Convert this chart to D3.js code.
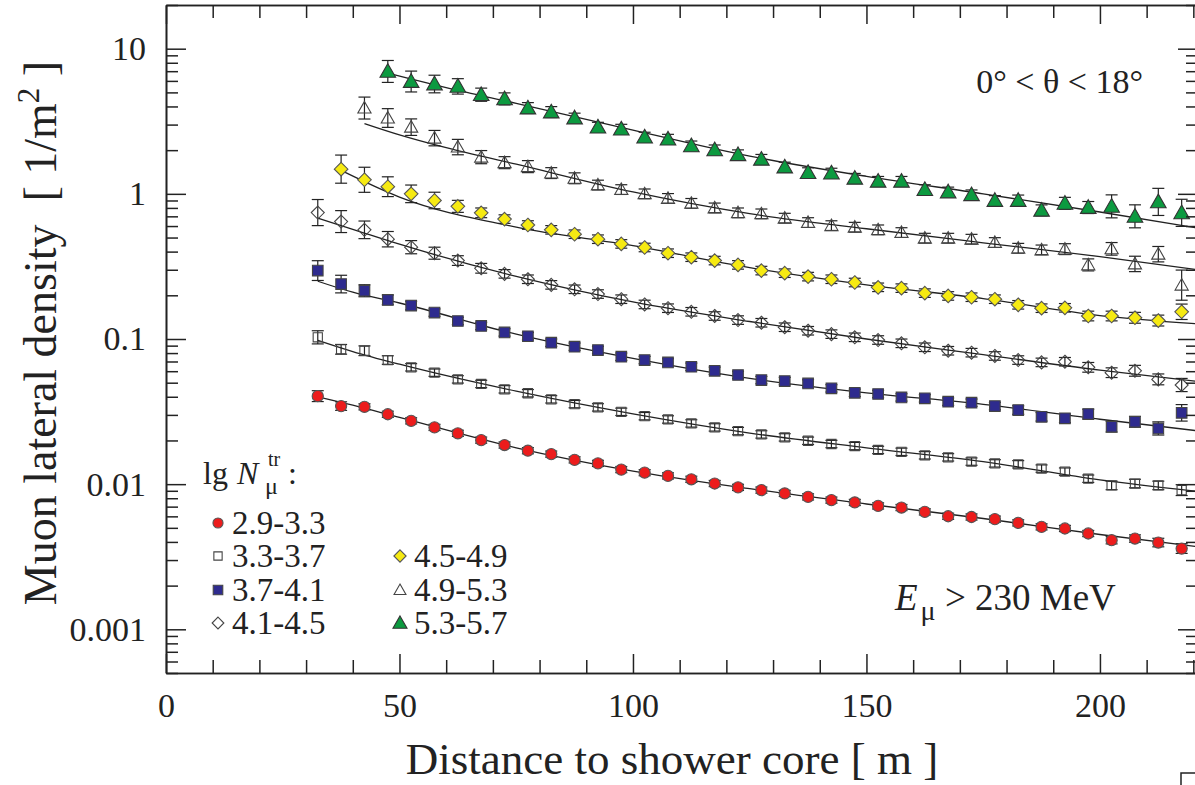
<!DOCTYPE html>
<html>
<head>
<meta charset="utf-8">
<script src="https://cdn.jsdelivr.net/npm/d3@7"></script>
<style>
  body { margin: 0; background: #fff; }
  svg text { font-family: "Liberation Serif", "Times New Roman", serif; fill: #222; }
</style>
</head>
<body>
<div id="chart"></div>
<script>
// ----------------------------------------------------
// Data (densities in 1/m^2)
// ----------------------------------------------------
const distances = [32.5, 37.5, 42.5, 47.5, 52.5, 57.5, 62.5, 67.5, 72.5, 77.5,
  82.5, 87.5, 92.5, 97.5, 102.5, 107.5, 112.5, 117.5, 122.5, 127.5,
  132.5, 137.5, 142.5, 147.5, 152.5, 157.5, 162.5, 167.5, 172.5, 177.5,
  182.5, 187.5, 192.5, 197.5, 202.5, 207.5, 212.5, 217.5];

const binLabels = ["2.9-3.3", "3.3-3.7", "3.7-4.1", "4.1-4.5", "4.5-4.9", "4.9-5.3", "5.3-5.7"];

const dens29 = [0.0404, 0.0345, 0.0341, 0.0303, 0.0273, 0.0246, 0.0224, 0.0201, 0.0186, 0.0170,
  0.0161, 0.0147, 0.0139, 0.0126, 0.0120, 0.0114, 0.0108, 0.0101, 0.0095, 0.0091,
  0.00863, 0.00817, 0.00776, 0.00748, 0.00708, 0.0069, 0.00644, 0.00601, 0.00594, 0.00574,
  0.00541, 0.00508, 0.00495, 0.00457, 0.00411, 0.00422, 0.00396, 0.0036];
const dens33 = [0.1027, 0.0849, 0.083, 0.0716, 0.0638, 0.0586, 0.0527, 0.049, 0.045, 0.0423,
  0.0384, 0.0356, 0.0338, 0.0315, 0.0294, 0.0279, 0.0262, 0.0246, 0.0232, 0.0220,
  0.0210, 0.0199, 0.0189, 0.0183, 0.0172, 0.0167, 0.0158, 0.0153, 0.0143, 0.0139,
  0.0137, 0.0128, 0.0122, 0.0109, 0.0098, 0.0101, 0.0098, 0.0091];
const dens37 = [0.296, 0.239, 0.215, 0.186, 0.170, 0.152, 0.133, 0.123, 0.111, 0.1045,
  0.0943, 0.0885, 0.0839, 0.0755, 0.0716, 0.069, 0.0644, 0.0604, 0.0565, 0.0521,
  0.0513, 0.0494, 0.0457, 0.0426, 0.0418, 0.0396, 0.039, 0.037, 0.0364, 0.0345,
  0.0324, 0.0291, 0.0284, 0.0304, 0.0249, 0.0269, 0.0242, 0.031];
const dens41 = [0.743, 0.644, 0.565, 0.487, 0.429, 0.39, 0.347, 0.307, 0.281, 0.258,
  0.236, 0.220, 0.204, 0.188, 0.173, 0.163, 0.154, 0.144, 0.135, 0.1294,
  0.1205, 0.114, 0.108, 0.1027, 0.0984, 0.0934, 0.0877, 0.083, 0.0805, 0.0764,
  0.0716, 0.069, 0.0697, 0.0638, 0.0586, 0.0604, 0.0527, 0.0482];
// these start at 37.5 m
const dens45 = [1.48, 1.25, 1.12, 1.00, 0.90, 0.82, 0.74, 0.67, 0.61, 0.565,
  0.527, 0.487, 0.452, 0.427, 0.39, 0.366, 0.347, 0.324, 0.296, 0.284,
  0.269, 0.258, 0.245, 0.227, 0.224, 0.207, 0.198, 0.194, 0.188, 0.172,
  0.163, 0.164, 0.144, 0.144, 0.140, 0.134, 0.154];
// starts at 42.5 m
const dens49 = [3.90, 3.33, 2.88, 2.42, 2.10, 1.79, 1.64, 1.54, 1.39, 1.28,
  1.15, 1.07, 1.00, 0.93, 0.86, 0.80, 0.74, 0.728, 0.68, 0.634,
  0.604, 0.589, 0.565, 0.541, 0.495, 0.495, 0.487, 0.462, 0.422, 0.411,
  0.416, 0.324, 0.418, 0.329, 0.384, 0.235];
// starts at 47.5 m
const dens53 = [6.97, 5.94, 5.71, 5.50, 4.82, 4.51, 3.90, 3.66, 3.33, 2.88,
  2.79, 2.46, 2.38, 2.14, 2.01, 1.86, 1.73, 1.53, 1.40, 1.39,
  1.28, 1.22, 1.22, 1.07, 1.03, 0.985, 0.90, 0.90, 0.77, 0.86,
  0.805, 0.82, 0.70, 0.88, 0.74];

// relative errors (fraction of the value)
const err29 = [0.09, 0.07, 0.05, 0.05, 0.05, 0.05, 0.05, 0.05, 0.05, 0.05,
  0.05, 0.05, 0.05, 0.05, 0.05, 0.05, 0.05, 0.05, 0.05, 0.05,
  0.05, 0.05, 0.05, 0.05, 0.05, 0.05, 0.05, 0.05, 0.05, 0.05,
  0.05, 0.05, 0.05, 0.05, 0.06, 0.06, 0.07, 0.08];
const err33 = [0.11, 0.08, 0.08, 0.07, 0.06, 0.06, 0.06, 0.06, 0.06, 0.06,
  0.06, 0.06, 0.06, 0.06, 0.06, 0.06, 0.06, 0.06, 0.06, 0.06,
  0.06, 0.06, 0.06, 0.06, 0.06, 0.06, 0.06, 0.06, 0.06, 0.06,
  0.06, 0.06, 0.06, 0.06, 0.07, 0.07, 0.07, 0.09];
const err37 = [0.17, 0.15, 0.10, 0.08, 0.07, 0.06, 0.06, 0.06, 0.06, 0.06,
  0.06, 0.06, 0.06, 0.06, 0.06, 0.06, 0.06, 0.06, 0.06, 0.06,
  0.06, 0.06, 0.06, 0.06, 0.06, 0.06, 0.06, 0.06, 0.06, 0.06,
  0.07, 0.07, 0.07, 0.08, 0.09, 0.09, 0.11, 0.14];
const err41 = [0.23, 0.19, 0.15, 0.13, 0.11, 0.10, 0.08, 0.08, 0.07, 0.07,
  0.07, 0.07, 0.07, 0.07, 0.07, 0.07, 0.07, 0.07, 0.07, 0.07,
  0.07, 0.07, 0.07, 0.07, 0.07, 0.07, 0.07, 0.07, 0.07, 0.07,
  0.07, 0.07, 0.07, 0.08, 0.08, 0.09, 0.09, 0.11];
const err45 = [0.25, 0.22, 0.17, 0.15, 0.14, 0.10, 0.08, 0.07, 0.07, 0.07,
  0.07, 0.07, 0.07, 0.07, 0.07, 0.07, 0.07, 0.07, 0.07, 0.07,
  0.07, 0.07, 0.07, 0.07, 0.07, 0.07, 0.07, 0.07, 0.07, 0.07,
  0.07, 0.07, 0.08, 0.08, 0.09, 0.09, 0.13];
const err49 = [0.19, 0.16, 0.14, 0.13, 0.13, 0.11, 0.10, 0.10, 0.09, 0.09,
  0.08, 0.08, 0.08, 0.08, 0.08, 0.08, 0.08, 0.08, 0.08, 0.08,
  0.08, 0.08, 0.08, 0.08, 0.08, 0.08, 0.08, 0.08, 0.08, 0.08,
  0.09, 0.10, 0.105, 0.13, 0.13, 0.27];
const err53 = [0.19, 0.18, 0.15, 0.13, 0.11, 0.10, 0.09, 0.09, 0.08, 0.08,
  0.08, 0.08, 0.08, 0.08, 0.08, 0.08, 0.08, 0.08, 0.08, 0.08,
  0.08, 0.08, 0.08, 0.08, 0.08, 0.08, 0.08, 0.09, 0.09, 0.10,
  0.10, 0.20, 0.20, 0.24, 0.24];

// fitted lateral distribution curves, read at a few distances
const fit29 = [[32.5, 0.040], [40, 0.035], [50, 0.0288], [75, 0.0178], [100, 0.0123], [125, 0.0093], [150, 0.0073], [175, 0.0058], [200, 0.0045], [221, 0.0037]];
const fit33 = [[32.5, 0.098], [40, 0.082], [50, 0.067], [75, 0.0437], [100, 0.0305], [125, 0.0225], [150, 0.0178], [175, 0.0143], [200, 0.0107], [221, 0.0089]];
const fit37 = [[32.5, 0.25], [40, 0.21], [50, 0.177], [75, 0.108], [100, 0.0735], [125, 0.0535], [150, 0.0425], [175, 0.0355], [200, 0.028], [221, 0.0233]];
const fit41 = [[32.5, 0.68], [40, 0.57], [50, 0.45], [75, 0.27], [100, 0.18], [125, 0.132], [150, 0.100], [175, 0.078], [200, 0.061], [221, 0.051]];
const fit45 = [[37.5, 1.45], [50, 0.95], [75, 0.59], [100, 0.44], [125, 0.31], [150, 0.236], [175, 0.19], [200, 0.145], [221, 0.127]];
const fit49 = [[42.5, 3.05], [50, 2.55], [60, 2.08], [75, 1.6], [100, 1.03], [125, 0.73], [150, 0.575], [175, 0.46], [200, 0.37], [221, 0.30]];
const fit53 = [[47.5, 6.8], [60, 5.4], [75, 4.2], [100, 2.75], [125, 1.82], [150, 1.32], [175, 1.0], [200, 0.75], [221, 0.58]];

const xMajorTicks = [0, 50, 100, 150, 200];
const yMajorTicks = [0.001, 0.01, 0.1, 1, 10];
const yTickLabels = ["0.001", "0.01", "0.1", "1", "10"];

// ----------------------------------------------------
// Series styles
// ----------------------------------------------------
const series = [
  { label: binLabels[0], values: dens29, errors: err29, fit: fit29, first: 0, shape: "circle", size: 5.6, fill: "#ec1c1c", stroke: "#555" },
  { label: binLabels[1], values: dens33, errors: err33, fit: fit33, first: 0, shape: "square", size: 4.6, fill: "none", stroke: "#444" },
  { label: binLabels[2], values: dens37, errors: err37, fit: fit37, first: 0, shape: "square", size: 5.3, fill: "#2e2b8e", stroke: "#444" },
  { label: binLabels[3], values: dens41, errors: err41, fit: fit41, first: 0, shape: "diamond", size: 6.5, fill: "none", stroke: "#444" },
  { label: binLabels[4], values: dens45, errors: err45, fit: fit45, first: 1, shape: "diamond", size: 6.8, fill: "#f6ea12", stroke: "#555" },
  { label: binLabels[5], values: dens49, errors: err49, fit: fit49, first: 2, shape: "triangle", size: 6.6, fill: "none", stroke: "#444" },
  { label: binLabels[6], values: dens53, errors: err53, fit: fit53, first: 3, shape: "triangle", size: 7.8, fill: "#0c9a40", stroke: "#333" }
];

function markerPath(shape, s) {
  if (shape === "circle") return d3.symbol(d3.symbolCircle, Math.PI * s * s)();
  if (shape === "square") return `M${-s},${-s}H${s}V${s}H${-s}Z`;
  if (shape === "diamond") return `M0,${-s}L${s},0L0,${s}L${-s},0Z`;
  // triangle: apex up
  return `M0,${-s * 1.0}L${s},${s * 0.75}L${-s},${s * 0.75}Z`;
}

// ----------------------------------------------------
// Chart
// ----------------------------------------------------
const width = 1195;
const height = 785;
const plotLeft = 166, plotTop = 5, plotBottom = 673, plotRight = 1198;

const svg = d3.select("#chart").append("svg")
  .attr("width", width)
  .attr("height", height);

const x = d3.scaleLinear().domain([0, 221]).range([plotLeft, plotRight]);
const y = d3.scaleLog().domain([0.0005, 20]).range([plotBottom, plotTop]);

svg.append("defs").append("clipPath").attr("id", "plot-clip")
  .append("rect").attr("x", plotLeft).attr("y", plotTop)
  .attr("width", plotRight - plotLeft).attr("height", plotBottom - plotTop);

const plot = svg.append("g").attr("clip-path", "url(#plot-clip)");

// fit curves
const fitLine = d3.line()
  .x(d => x(d[0]))
  .y(d => y(d[1]))
  .curve(d3.curveMonotoneX);

plot.selectAll("path.fit")
  .data(series)
  .join("path")
  .attr("class", "fit")
  .attr("d", d => fitLine(d.fit))
  .attr("fill", "none")
  .attr("stroke", "#222")
  .attr("stroke-width", 1.3);

// points with error bars
const capHalf = 6;
series.forEach(s => {
  const pts = s.values.map((v, i) => ({ d: distances[s.first + i], v, e: s.errors[i] }));
  const g = plot.append("g");

  const eb = g.selectAll("g.err").data(pts).join("g").attr("class", "err")
    .attr("stroke", "#222").attr("stroke-width", 1.2);
  eb.append("line")
    .attr("x1", p => x(p.d)).attr("x2", p => x(p.d))
    .attr("y1", p => y(p.v * (1 + p.e))).attr("y2", p => y(p.v / (1 + p.e)));
  eb.append("line")
    .attr("x1", p => x(p.d) - capHalf).attr("x2", p => x(p.d) + capHalf)
    .attr("y1", p => y(p.v * (1 + p.e))).attr("y2", p => y(p.v * (1 + p.e)));
  eb.append("line")
    .attr("x1", p => x(p.d) - capHalf).attr("x2", p => x(p.d) + capHalf)
    .attr("y1", p => y(p.v / (1 + p.e))).attr("y2", p => y(p.v / (1 + p.e)));

  g.selectAll("path.mk").data(pts).join("path").attr("class", "mk")
    .attr("transform", p => `translate(${x(p.d)},${y(p.v)})`)
    .attr("d", markerPath(s.shape, s.size))
    .attr("fill", s.fill)
    .attr("stroke", s.stroke)
    .attr("stroke-width", 1.1);
});

// ----------------------------------------------------
// Axes (ticks inside, frame on all four sides)
// ----------------------------------------------------
const xMinorTicks = d3.range(0, 221, 10).filter(v => v % 50 !== 0);
const yMinorTicks = [];
for (let k = -4; k <= 1; k++) {
  for (let m = 2; m <= 9; m++) {
    const v = m * Math.pow(10, k);
    if (v >= 0.0005 && v <= 20) yMinorTicks.push(+v.toPrecision(3));
  }
}

function styleAxis(g) {
  g.selectAll("path.domain").attr("stroke", "#222").attr("stroke-width", 1.6);
  g.selectAll(".tick line").attr("stroke", "#222").attr("stroke-width", 1.5);
  g.selectAll(".tick text").style("font-size", "34px").attr("fill", "#222")
    .style("font-family", "'Liberation Serif', serif");
}

// bottom
svg.append("g").attr("transform", `translate(0,${plotBottom})`)
  .call(d3.axisBottom(x).tickValues(xMajorTicks).tickSizeInner(-19).tickSizeOuter(0)
    .tickPadding(20).tickFormat(d3.format("d")))
  .call(styleAxis);
svg.append("g").attr("transform", `translate(0,${plotBottom})`)
  .call(d3.axisBottom(x).tickValues(xMinorTicks).tickSizeInner(-13).tickSizeOuter(0).tickFormat(""))
  .call(styleAxis);
// top
svg.append("g").attr("transform", `translate(0,${plotTop})`)
  .call(d3.axisTop(x).tickValues(xMajorTicks).tickSizeInner(-19).tickSizeOuter(0).tickFormat(""))
  .call(styleAxis);
svg.append("g").attr("transform", `translate(0,${plotTop})`)
  .call(d3.axisTop(x).tickValues(xMinorTicks).tickSizeInner(-13).tickSizeOuter(0).tickFormat(""))
  .call(styleAxis);
// left
svg.append("g").attr("transform", `translate(${plotLeft},0)`)
  .call(d3.axisLeft(y).tickValues(yMajorTicks).tickSizeInner(-20).tickSizeOuter(0)
    .tickPadding(20).tickFormat((d, i) => yTickLabels[i]))
  .call(styleAxis);
svg.append("g").attr("transform", `translate(${plotLeft},0)`)
  .call(d3.axisLeft(y).tickValues(yMinorTicks).tickSizeInner(-12).tickSizeOuter(0).tickFormat(""))
  .call(styleAxis);
// right
svg.append("g").attr("transform", `translate(${plotRight},0)`)
  .call(d3.axisRight(y).tickValues(yMajorTicks).tickSizeInner(-20).tickSizeOuter(0).tickFormat(""))
  .call(styleAxis);
svg.append("g").attr("transform", `translate(${plotRight},0)`)
  .call(d3.axisRight(y).tickValues(yMinorTicks).tickSizeInner(-12).tickSizeOuter(0).tickFormat(""))
  .call(styleAxis);

// ----------------------------------------------------
// Titles and annotations
// ----------------------------------------------------
const yTitle = svg.append("text")
  .attr("transform", `translate(56,${(plotTop + plotBottom) / 2 - 6}) rotate(-90)`)
  .attr("text-anchor", "middle")
  .style("font-size", "46px");
yTitle.append("tspan").text("Muon lateral density\u00a0\u00a0[ 1/m");
yTitle.append("tspan").attr("dy", -17).style("font-size", "31px").text("2");
yTitle.append("tspan").attr("dy", 17).text(" ]");

svg.append("text")
  .attr("x", 672).attr("y", 774)
  .attr("text-anchor", "middle")
  .style("font-size", "45px")
  .text("Distance to shower core [ m ]");

svg.append("text")
  .attr("x", 1143).attr("y", 93)
  .attr("text-anchor", "end")
  .style("font-size", "34px")
  .text("0° < θ < 18°");

const eText = svg.append("text").attr("x", 895).attr("y", 610)
  .style("font-size", "37px");
eText.append("tspan").style("font-style", "italic").text("E");
eText.append("tspan").attr("dy", 10).attr("dx", 3).style("font-size", "28px").text("μ");
eText.append("tspan").attr("dy", -10).text("\u00a0>\u00a0230 MeV");

// ----------------------------------------------------
// Legend
// ----------------------------------------------------
svg.append("text").attr("x", 203).attr("y", 484).style("font-size", "32px").text("lg");
svg.append("text").attr("x", 237).attr("y", 484).style("font-size", "32px")
  .style("font-style", "italic").text("N");
svg.append("text").attr("x", 268).attr("y", 466).style("font-size", "20px").text("tr");
svg.append("text").attr("x", 265).attr("y", 494).style("font-size", "24px").text("μ");
svg.append("text").attr("x", 288).attr("y", 484).style("font-size", "32px").text(":");

const legendPos = [
  [218, 523], [218, 556], [218, 590], [218, 623],
  [400, 556], [400, 590], [400, 623]
];
const legend = svg.append("g").selectAll("g").data(series).join("g")
  .attr("transform", (d, i) => `translate(${legendPos[i][0]},${legendPos[i][1]})`);
legend.append("path")
  .attr("d", d => markerPath(d.shape, d.size * 0.9))
  .attr("fill", d => d.fill)
  .attr("stroke", d => d.stroke)
  .attr("stroke-width", 1.1);
legend.append("text")
  .attr("x", 14)
  .attr("y", 11)
  .style("font-size", "33px")
  .text(d => d.label);

// small cut-off mark at the bottom right corner
svg.append("path")
  .attr("d", "M1181,785V773H1195")
  .attr("fill", "none").attr("stroke", "#222").attr("stroke-width", 1.5);
</script>
</body>
</html>
